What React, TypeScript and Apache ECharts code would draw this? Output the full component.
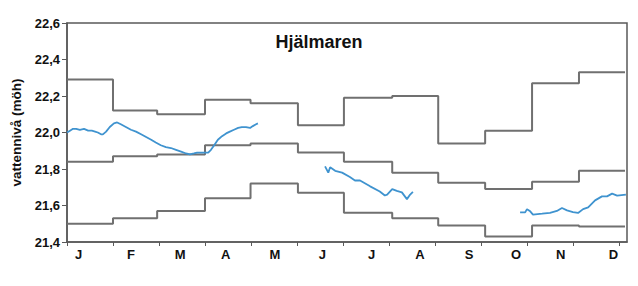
import React, { useEffect, useRef } from "react";
import * as echarts from "echarts";

// x in months from Jan 1 (0 = start of January)
const monthLetters = ["J", "F", "M", "A", "M", "J", "J", "A", "S", "O", "N", "D"];
const monthLabelPos = [0.25, 1.39, 2.46, 3.45, 4.52, 5.55, 6.62, 7.67, 8.74, 9.76, 10.73, 11.88];
const monthTicks = [0, 1, 2, 3, 4, 5, 6, 7, 8, 9, 10, 11, 12];
const yTicksMin = 21.4;
const yTicksMax = 22.6;
const xMax = 12.174;

// step boundaries (months) for the reference levels
const stepX = [0, 1.0, 1.96, 3.0, 3.99, 5.02, 6.02, 7.07, 8.07, 9.09, 10.11, 11.13, 12.13];
const upperLevel = [22.29, 22.12, 22.1, 22.18, 22.16, 22.04, 22.19, 22.2, 21.94, 22.01, 22.27, 22.33];
const middleLevel = [21.84, 21.87, 21.88, 21.93, 21.94, 21.89, 21.84, 21.78, 21.725, 21.69, 21.73, 21.79];
const lowerLevel = [21.5, 21.53, 21.57, 21.64, 21.72, 21.67, 21.56, 21.53, 21.49, 21.43, 21.49, 21.485];

// observed water level, three periods
const obs1X = [0.0, 0.065, 0.13, 0.2, 0.28, 0.37, 0.46, 0.54, 0.61, 0.67, 0.74, 0.78, 0.85, 0.93, 1.02, 1.09, 1.17, 1.28, 1.39, 1.5, 1.61, 1.72, 1.83, 1.93, 2.04, 2.15, 2.26, 2.37, 2.48, 2.59, 2.67, 2.76, 2.83, 2.91, 3.0, 3.07, 3.13, 3.2, 3.28, 3.37, 3.46, 3.54, 3.63, 3.72, 3.8, 3.89, 3.98, 4.04, 4.11, 4.15];
const obs1Y = [22.0, 22.01, 22.02, 22.02, 22.015, 22.02, 22.01, 22.01, 22.005, 22.0, 21.99, 21.99, 22.005, 22.03, 22.05, 22.055, 22.045, 22.03, 22.015, 22.005, 21.99, 21.975, 21.96, 21.945, 21.93, 21.92, 21.915, 21.905, 21.895, 21.885, 21.88, 21.885, 21.89, 21.89, 21.89, 21.89, 21.905, 21.93, 21.96, 21.98, 21.995, 22.005, 22.015, 22.025, 22.03, 22.03, 22.025, 22.035, 22.045, 22.05];
const obs2X = [5.61, 5.68, 5.72, 5.83, 5.98, 6.15, 6.26, 6.37, 6.59, 6.8, 6.91, 6.96, 7.07, 7.17, 7.28, 7.39, 7.46, 7.52];
const obs2Y = [21.814, 21.78, 21.81, 21.79, 21.78, 21.756, 21.737, 21.737, 21.705, 21.677, 21.655, 21.66, 21.69, 21.68, 21.672, 21.635, 21.66, 21.675];
const obs3X = [9.85, 9.96, 10.0, 10.07, 10.13, 10.33, 10.5, 10.65, 10.76, 10.87, 11.0, 11.11, 11.22, 11.33, 11.48, 11.63, 11.74, 11.85, 11.96, 12.15];
const obs3Y = [21.562, 21.562, 21.58, 21.568, 21.55, 21.555, 21.56, 21.57, 21.586, 21.573, 21.564, 21.559, 21.58, 21.59, 21.628, 21.65, 21.65, 21.665, 21.654, 21.66];

const FONT = "'Liberation Sans', Arial, sans-serif";
const GREY = "#707070";
const BLUE = "#3f93cf";
const AXIS = "#595959";

function stepData(levels: number[]) {
  const d: number[][] = levels.map((v, i) => [stepX[i], v]);
  d.push([stepX[stepX.length - 1], levels[levels.length - 1]]);
  return d;
}
function pairs(xs: number[], ys: number[]) {
  return xs.map((x, i) => [x, ys[i]]);
}

export default function App() {
  const ref = useRef<HTMLDivElement>(null);
  useEffect(() => {
    if (!ref.current) return;
    const chart = echarts.init(ref.current, undefined, { renderer: "svg" });
    const stepSeries = (levels: number[]) => ({
      type: "line",
      step: "end",
      data: stepData(levels),
      showSymbol: false,
      symbol: "none",
      lineStyle: { color: GREY, width: 2 },
      silent: true,
    });
    const obsSeries = (xs: number[], ys: number[]) => ({
      type: "line",
      data: pairs(xs, ys),
      showSymbol: false,
      symbol: "none",
      lineStyle: { color: BLUE, width: 1.8 },
      silent: true,
    });
    chart.setOption({
      animation: false,
      backgroundColor: "#ffffff",
      title: {
        text: "Hjälmaren",
        left: "center",
        top: 28,
        textStyle: { fontFamily: FONT, fontWeight: "bold", fontSize: 18, color: "#111" },
      },
      grid: {
        left: 67,
        right: 11,
        top: 23,
        bottom: 44,
        show: true,
        borderColor: AXIS,
        borderWidth: 1.5,
      },
      xAxis: {
        type: "value",
        min: 0,
        max: xMax,
        axisLine: { show: true, lineStyle: { color: AXIS, width: 1.5 } },
        axisTick: { show: true, customValues: monthTicks, length: 4, lineStyle: { color: AXIS } },
        splitLine: { show: false },
        axisLabel: {
          customValues: monthLabelPos,
          margin: 6,
          fontFamily: FONT,
          fontWeight: "bold",
          fontSize: 13,
          color: "#111",
          formatter: (v: number) => {
            let best = 0;
            monthLabelPos.forEach((p, i) => {
              if (Math.abs(p - v) < Math.abs(monthLabelPos[best] - v)) best = i;
            });
            return monthLetters[best];
          },
        },
      },
      yAxis: {
        type: "value",
        min: yTicksMin,
        max: yTicksMax,
        interval: 0.2,
        name: "vattennivå (möh)",
        nameLocation: "middle",
        nameGap: 44,
        nameTextStyle: { fontFamily: FONT, fontWeight: "bold", fontSize: 13.5, color: "#111" },
        axisLine: { show: true, lineStyle: { color: AXIS, width: 1.5 } },
        axisTick: { show: true, length: 5, lineStyle: { color: AXIS } },
        splitLine: { show: false },
        axisLabel: {
          margin: 7,
          fontFamily: FONT,
          fontWeight: "bold",
          fontSize: 13,
          color: "#111",
          formatter: (v: number) => v.toFixed(1).replace(".", ","),
        },
      },
      series: [
        stepSeries(upperLevel),
        stepSeries(middleLevel),
        stepSeries(lowerLevel),
        obsSeries(obs1X, obs1Y),
        obsSeries(obs2X, obs2Y),
        obsSeries(obs3X, obs3Y),
      ],
    });
    return () => chart.dispose();
  }, []);
  return <div ref={ref} style={{ width: 638, height: 286, position: "absolute", left: 0, top: 0 }} />;
}
